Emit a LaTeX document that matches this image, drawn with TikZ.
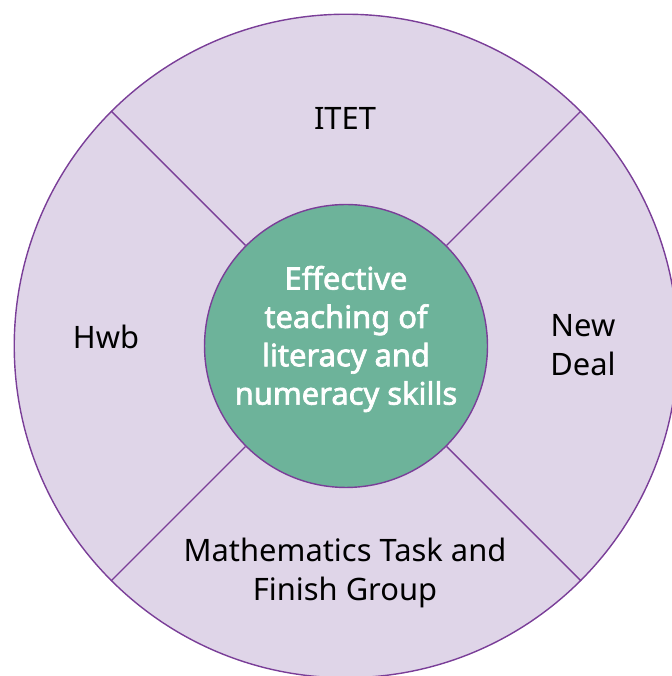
\documentclass[tikz,border=0pt]{standalone}
\usepackage{fontspec}
\setmainfont{Noto Sans}[AutoFakeBold=2.2]
\usetikzlibrary{calc}
\definecolor{ringfill}{HTML}{DFD5E8}
\definecolor{ringline}{HTML}{7A3E98}
\definecolor{hubfill}{HTML}{6DB39A}
\tikzset{
	segtext/.style={align=center,font=\fontsize{31}{39}\selectfont,text=black},
	hubtext/.style={align=center,font=\fontsize{31}{38.5}\selectfont\bfseries,text=white}
}

\begin{document}
\begin{tikzpicture}[x=1bp,y=1bp]
				%%%%% START %%%%%
				\def\cx{346}
				\def\cy{330}
				\def\radrim{333}
				\def\radhub{142}
				\def\width{1.4bp}

				\useasboundingbox (0,0) rectangle (672,676);

				\node[circle,draw=ringline,fill=ringfill,line width=\width,minimum size=2*\radrim,inner sep=0pt] (rim) at (\cx,\cy) {};
				\node[circle,draw=ringline,fill=hubfill,line width=\width,minimum size=2*\radhub,inner sep=0pt] (hub) at (\cx,\cy) {};

				\foreach \ang in {45,135,225,315}
					\draw[ringline,line width=\width] (hub.\ang) -- (rim.\ang);

				\node[hubtext] (core) at (\cx,\cy+7) {Effective\\teaching of\\literacy and\\numeracy skills};

				\node[segtext] (itet) at (345,558) {ITET};
				\node[segtext] (hwb) at (106,339) {Hwb};
				\node[segtext] (deal) at (583,331) {New\\Deal};
				\node[segtext] (maths) at (345,103) {Mathematics Task and\\Finish Group};
				%%%%% START %%%%%
			\end{tikzpicture}
\end{document}
